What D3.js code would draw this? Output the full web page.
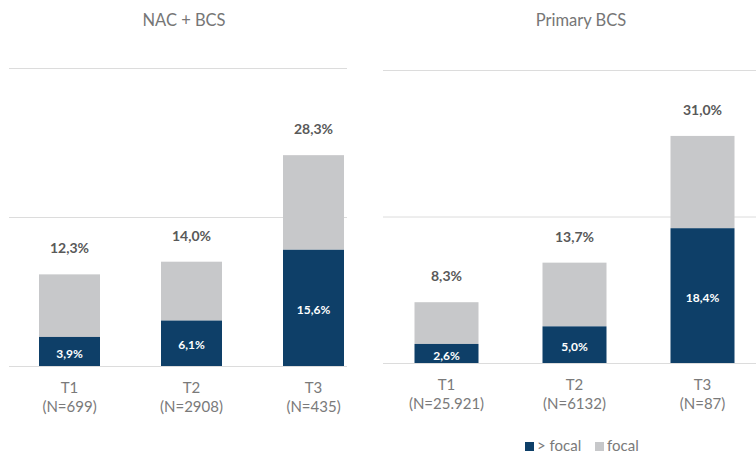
<!DOCTYPE html>
<html>

<head>
  <title>Focal vs > focal by T stage</title>
  <style>
    body { margin: 0; background: #fff; }
    svg { display: block; font-family: Lato, "Open Sans", sans-serif; }
  </style>
</head>

<body>
  <svg id="svg"></svg>

  <script src="https://d3js.org/d3.v7.min.js"></script>
  <script>
    let width = 756, height = 454;

    // data
    let categories = ["T1", "T2", "T3"];
    let nacLabels = ["(N=699)", "(N=2908)", "(N=435)"];
    let nacAboveFocal = [3.9, 6.1, 15.6];
    let nacTotal = [12.3, 14.0, 28.3];
    let primLabels = ["(N=25.921)", "(N=6132)", "(N=87)"];
    let primAboveFocal = [2.6, 5.0, 18.4];
    let primTotal = [8.3, 13.7, 31.0];
    let yTicks = [0, 20, 40];
    let seriesNames = ["> focal", "focal"];

    let navy = "#0e3f68", grey = "#c7c8ca";

    let locale = d3.formatLocale({ decimal: ",", thousands: ".", grouping: [3], currency: ["", "%"] });
    let pct = v => locale.format(".1f")(v) + "%";

    let svg = d3.select("#svg").attr("width", width).attr("height", height);

    let panels = [
      { title: "NAC + BCS", titleX: 184, nLabels: nacLabels, above: nacAboveFocal, total: nacTotal,
        xRange: [8.5, 374.5], gridX: [9, 347], yRange: [366, 68] },
      { title: "Primary BCS", titleX: 581, nLabels: primLabels, above: primAboveFocal, total: primTotal,
        xRange: [382.5, 766.5], gridX: [383, 756], yRange: [363, 70] }
    ];

    panels.forEach(p => {
      let x = d3.scaleBand().domain(categories).range(p.xRange).paddingInner(0.5).paddingOuter(0.25);
      let y = d3.scaleLinear().domain([0, 40]).range(p.yRange);
      let g = svg.append("g");

      let data = categories.map((c, i) => ({ cat: c, n: p.nLabels[i], above: p.above[i], total: p.total[i] }));

      g.append("text")
        .attr("x", p.titleX).attr("y", 26)
        .attr("text-anchor", "middle")
        .attr("fill", "#767676")
        .attr("font-size", 16.5)
        .text(p.title);

      g.selectAll(".grid")
        .data(yTicks)
        .join("line")
        .attr("x1", p.gridX[0]).attr("x2", p.gridX[1])
        .attr("y1", d => y(d) + 0.5).attr("y2", d => y(d) + 0.5)
        .attr("stroke", "#dcdcdc");

      // grey segment: focal part on top of the > focal part
      g.selectAll(".focal")
        .data(data)
        .join("rect")
        .attr("x", d => x(d.cat))
        .attr("width", x.bandwidth())
        .attr("y", d => y(d.total))
        .attr("height", d => y(d.above) - y(d.total))
        .attr("fill", grey);

      g.selectAll(".above")
        .data(data)
        .join("rect")
        .attr("x", d => x(d.cat))
        .attr("width", x.bandwidth())
        .attr("y", d => y(d.above))
        .attr("height", d => y(0) - y(d.above))
        .attr("fill", navy);

      g.selectAll(".inner")
        .data(data)
        .join("text")
        .attr("x", d => x(d.cat) + x.bandwidth() / 2)
        .attr("y", d => (y(d.above) + y(0)) / 2 + 2)
        .attr("dy", "0.35em")
        .attr("text-anchor", "middle")
        .attr("fill", "#fff")
        .attr("font-weight", "bold")
        .attr("font-size", 12)
        .text(d => pct(d.above));

      g.selectAll(".total")
        .data(data)
        .join("text")
        .attr("x", d => x(d.cat) + x.bandwidth() / 2)
        .attr("y", d => y(d.total) - 26)
        .attr("dy", "0.35em")
        .attr("text-anchor", "middle")
        .attr("fill", "#595959")
        .attr("font-weight", "bold")
        .attr("font-size", 14)
        .text(d => pct(d.total));

      let axis = g.append("g")
        .attr("transform", `translate(0, ${y(0)})`)
        .call(d3.axisBottom(x).tickSize(0).tickPadding(0));
      axis.select(".domain").remove();
      axis.selectAll(".tick text").remove();
      axis.selectAll(".tick").each(function (c, i) {
        let t = d3.select(this).append("text")
          .attr("text-anchor", "middle")
          .attr("fill", "#7a7a7a")
          .attr("font-size", 15)
          .attr("font-family", "Lato, sans-serif");
        t.append("tspan").attr("x", 0).attr("y", 22).attr("dy", "0.35em").text(c);
        t.append("tspan").attr("x", 0).attr("y", 41).attr("dy", "0.35em").text(data[i].n);
      });
    });

    // legend
    let legend = svg.append("g").attr("transform", "translate(525, 446)");
    let colors = [navy, grey];
    let offsets = [0, 70];
    seriesNames.forEach((s, i) => {
      legend.append("rect")
        .attr("x", offsets[i]).attr("y", -4)
        .attr("width", 9).attr("height", 9)
        .attr("fill", colors[i]);
      legend.append("text")
        .attr("x", offsets[i] + 12).attr("y", 0)
        .attr("dy", "0.35em")
        .attr("fill", "#7a7a7a")
        .attr("font-size", 15)
        .text(s);
    });
  </script>
</body>

</html>
